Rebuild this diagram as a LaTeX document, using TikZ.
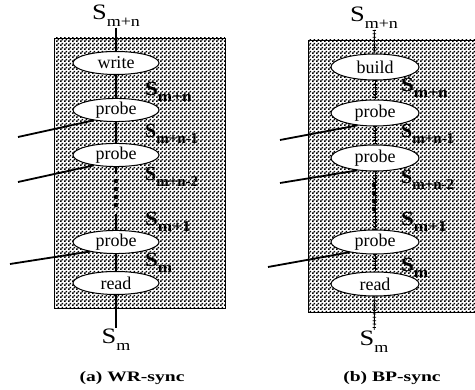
\documentclass[tikz,border=0pt]{standalone}
\usepackage{fontspec}
\setmainfont{Liberation Serif}
\usetikzlibrary{shapes.geometric,patterns}

% fine halftone used for the shaded operator regions
\pgfdeclarepatternformonly{halftone}{\pgfpointorigin}{\pgfpoint{4pt}{4pt}}{\pgfpoint{4pt}{4pt}}{%
  \pgfpathrectangle{\pgfpoint{0.1pt}{0.1pt}}{\pgfpoint{1.8pt}{1.8pt}}%
  \pgfpathrectangle{\pgfpoint{2.1pt}{2.1pt}}{\pgfpoint{1.8pt}{1.8pt}}%
  \pgfusepath{fill}}

\newcommand\sub[1]{\raisebox{-0.32em}{\fontsize{15}{15}\selectfont #1}}
\newcommand\bsub[1]{\raisebox{-0.3em}{\fontsize{15}{15}\selectfont #1}}
\newcommand\wide[2]{\scalebox{#1}[1]{#2}}

\tikzset{
  op/.style={ellipse, draw, line width=1pt, fill=white, minimum width=86pt,
    minimum height=23pt, inner sep=0pt, font=\fontsize{18}{18}\selectfont},
  opb/.style={op, minimum width=88pt, minimum height=26pt},
  endlbl/.style={inner sep=1pt, font=\fontsize{22}{22}\selectfont},
  flowlbl/.style={anchor=west, inner sep=0pt, font=\bfseries\fontsize{20}{20}\selectfont},
  caption/.style={inner sep=0pt, font=\bfseries\fontsize{14.5}{14.5}\selectfont},
  inlet/.style={line width=1.8pt},
  flow/.style={line width=1.3pt},
  ticked/.style={preaction={draw, solid, line width=0.9pt}, line width=3.4pt,
    dash pattern=on 0.8pt off 2.6pt},
  shade/.style={pattern=halftone, draw=black, line width=0.5pt},
}

\begin{document}
\begin{tikzpicture}[x=1pt,y=-1pt]
\useasboundingbox (0,0) rectangle (475,390);

% ---------------- (a) WR-sync ----------------
\filldraw[shade] (54,38) rectangle (225,308);

\node[endlbl] (at) at (116,16) {\wide{1.2}{S\sub{m+n}}};
\node[op] (aw)  at (116,63)  {write};
\node[op] (ap1) at (116,110) {probe};
\node[op] (ap2) at (116,155) {probe};
\node[op] (ap3) at (116,242) {probe};
\node[op] (ar)  at (116,283) {read};
\node[endlbl] (ab) at (116,340) {\wide{1.2}{S\sub{m}}};

\coordinate (ad1) at (116,174);
\coordinate (ad2) at (116,214);
\draw[flow] (at) -- (aw);
\draw[flow] (aw) -- (ap1);
\draw[flow] (ap1) -- (ap2);
\draw[flow] (ap2) -- (ad1);
\draw[flow] (ad2) -- (ap3);
\draw[flow] (ap3) -- (ar);
\draw[flow] (ar) -- (ab);
\foreach \y in {181,189,197,205} \fill (116,\y) circle (2.3pt);

\node[flowlbl] (al1) at (145,92)  {\wide{1.15}{S\bsub{m+n}}};
\node[flowlbl] (al2) at (145,134) {\wide{1.0}{S\bsub{m+n-1}}};
\node[flowlbl] (al3) at (145,177) {\wide{1.0}{S\bsub{m+n-2}}};
\node[flowlbl] (al4) at (145,222) {\wide{1.15}{S\bsub{m+1}}};
\node[flowlbl] (al5) at (145,263) {\wide{1.15}{S\bsub{m}}};

\coordinate (ai1) at (18,137);
\coordinate (ai2) at (18,182);
\coordinate (ai3) at (10,264);
\draw[inlet] (ai1) -- (ap1.205);
\draw[inlet] (ai2) -- (ap2.205);
\draw[inlet] (ai3) -- (ap3.200);

\node[caption] (acap) at (132,378) {\wide{1.35}{(a) WR-sync}};

% ---------------- (b) BP-sync ----------------
\filldraw[shade] (308,40) rectangle (475,312);

\node[endlbl] (bt) at (374,18) {\wide{1.2}{S\sub{m+n}}};
\node[opb] (bb)  at (375,67)  {build};
\node[opb] (bp1) at (375,113) {probe};
\node[opb] (bp2) at (375,158) {probe};
\node[op, minimum width=88pt, minimum height=24pt] (bp3) at (375,242) {probe};
\node[op, minimum width=88pt, minimum height=24pt] (br)  at (375,284) {read};
\node[endlbl] (bbot) at (374,342) {\wide{1.2}{S\sub{m}}};

\draw[ticked] (bt) -- (bb);
\draw[ticked] (bb) -- (bp1);
\draw[ticked] (bp1) -- (bp2);
\draw[ticked] (bp2) -- (bp3);
\draw[ticked] (bp3) -- (br);
\draw[ticked] (br) -- (bbot);
\foreach \y in {185,193,201,209} \fill (374,\y) circle (2.3pt);

\node[flowlbl] (bl1) at (401,88)  {\wide{1.15}{S\bsub{m+n}}};
\node[flowlbl] (bl2) at (401,134) {\wide{1.0}{S\bsub{m+n-1}}};
\node[flowlbl] (bl3) at (401,180) {\wide{1.0}{S\bsub{m+n-2}}};
\node[flowlbl] (bl4) at (401,222) {\wide{1.15}{S\bsub{m+1}}};
\node[flowlbl] (bl5) at (401,268) {\wide{1.15}{S\bsub{m}}};

\coordinate (bi1) at (280,140);
\coordinate (bi2) at (280,183);
\coordinate (bi3) at (268,267);
\draw[inlet] (bi1) -- (bp1.215);
\draw[inlet] (bi2) -- (bp2.215);
\draw[inlet] (bi3) -- (bp3.202);

\node[caption] (bcap) at (392,378) {\wide{1.35}{(b) BP-sync}};
\end{tikzpicture}
\end{document}
